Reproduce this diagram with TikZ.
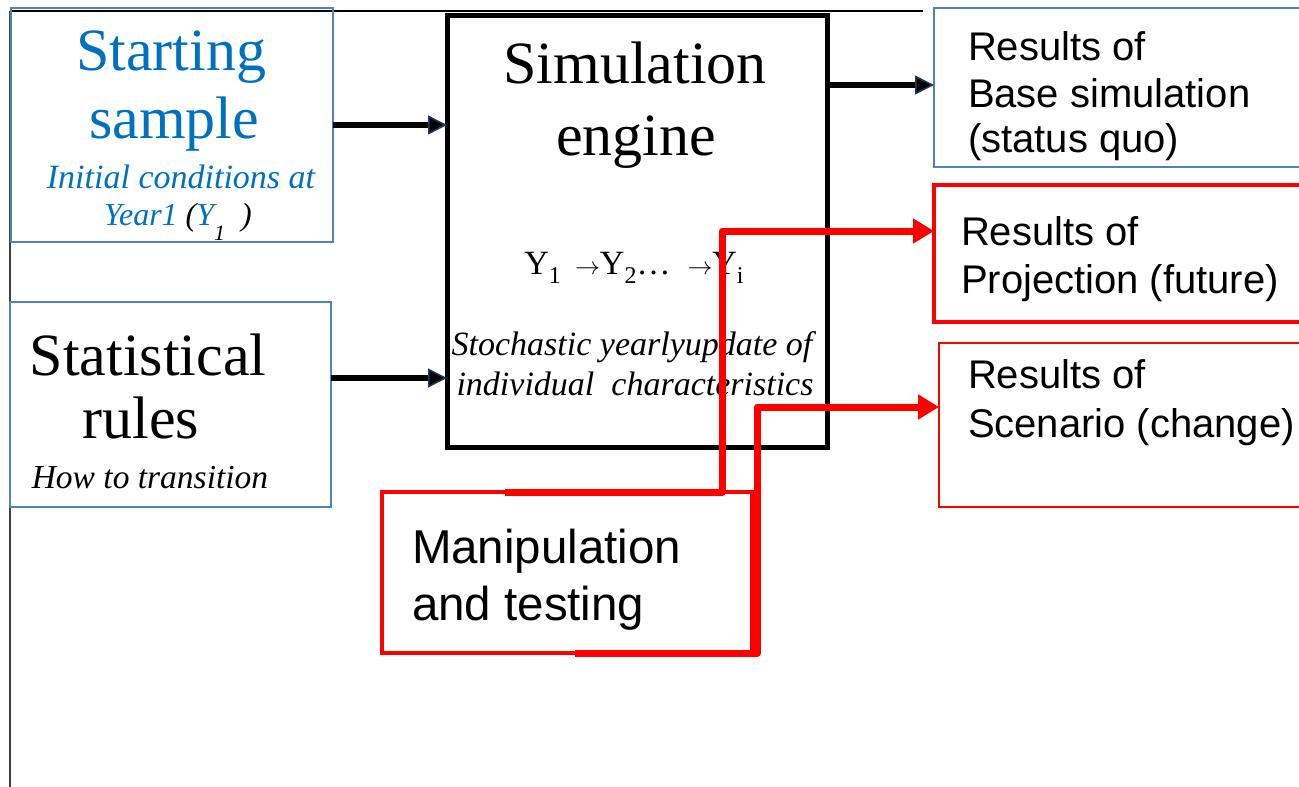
\documentclass[tikz,border=0pt]{standalone}
\usepackage{fontspec}
\setmainfont{Liberation Serif}
\newfontfamily\arialfont{Liberation Sans}
\usetikzlibrary{arrows.meta}
\definecolor{boxblue}{HTML}{4F81BD}
\definecolor{txtblue}{HTML}{0070C0}
\definecolor{navy}{HTML}{1F3864}
\definecolor{pptred}{HTML}{FF0000}
\definecolor{edgegray}{HTML}{404040}
\begin{document}
\begin{tikzpicture}[x=1pt,y=-1pt,
  box/.style={draw, inner sep=0pt, outer sep=0pt, anchor=north west},
  bluebox/.style={box, draw=boxblue, line width=1.6pt},
  enginebox/.style={box, draw=black, line width=5pt},
  redbox/.style={box, draw=pptred, line width=4pt},
  thinredbox/.style={box, draw=pptred, line width=2pt},
  lbl/.style={inner sep=0pt, outer sep=0pt, anchor=base},
  big/.style={lbl, font=\fontsize{60}{60}\selectfont},
  ital/.style={lbl, font=\fontsize{33.5}{33.5}\selectfont\itshape},
  sans/.style={inner sep=0pt, outer sep=0pt, anchor=base west, font=\arialfont\fontsize{40}{40}\selectfont},
  blkarrow/.style={draw=black, line width=5.5pt, -{Triangle[length=19pt, width=19pt, line width=1.5pt, color=navy, fill=black]}},
  redarrow/.style={draw=pptred, line width=7pt, line join=round, -{Triangle[length=21pt, width=24pt]}},
]
\useasboundingbox (0,0) rectangle (1299,787);
\fill[white] (0,0) rectangle (1299,787);

% frame lines
\draw[black, line width=1.2pt] (10,11) -- (923,11);
\draw[edgegray, line width=2pt] (10,11) -- (10,787);

% boxes
\node[bluebox, minimum width=322pt, minimum height=234pt] (ss) at (11,8) {};
\node[bluebox, minimum width=321pt, minimum height=205pt] (sr) at (10,302) {};
\node[enginebox, minimum width=380pt, minimum height=432pt] (eng) at (447,15) {};
\node[bluebox, minimum width=380pt, minimum height=159pt] (rb) at (934,8) {};
\node[redbox, minimum width=380pt, minimum height=137pt] (rp) at (934,185) {};
\node[thinredbox, minimum width=380pt, minimum height=164pt] (rs) at (939,343) {};
\node[redbox, minimum width=370pt, minimum height=161pt] (man) at (382,492) {};

% starting sample text
\node[big, text=txtblue] (ss1) at (171,70) {Starting};
\node[big, text=txtblue] (ss2) at (174,138) {sample};
\node[ital, font=\fontsize{34}{34}\selectfont\itshape, text=txtblue] (ss3) at (181,188) {Initial conditions at};
\node[ital, font=\fontsize{32}{32}\selectfont\itshape] (ss4) at (178,225) {\textcolor{txtblue}{Year1 }(\textcolor{txtblue}{Y}\raisebox{-15pt}{\fontsize{22}{22}\selectfont 1}\ \ )};

% statistical rules text
\node[big] (sr1) at (148,375) {Statistical};
\node[big] (sr2) at (141,438) {rules};
\node[ital] (sr3) at (150,488) {How to transition};

% engine text
\node[big] (en1) at (635,83) {Simulation};
\node[big] (en2) at (636,155) {engine};
\node[lbl, font=\fontsize{34}{34}\selectfont] (en3) at (634,274)
  {Y\raisebox{-9pt}{\fontsize{24}{24}\selectfont 1}\ \,$\rightarrow$Y\raisebox{-9pt}{\fontsize{24}{24}\selectfont 2}\ldots\ \ $\rightarrow$Y\raisebox{-9pt}{\fontsize{24}{24}\selectfont i}};
\node[ital, font=\fontsize{34}{34}\selectfont\itshape] (en4) at (632,355) {Stochastic yearlyupdate of};
\node[ital, font=\fontsize{34}{34}\selectfont\itshape] (en5) at (635,395) {individual\ \ characteristics};

% results text
\node[sans] (rb1) at (968,60) {Results of};
\node[sans] (rb2) at (968,107) {Base simulation};
\node[sans] (rb3) at (968,152) {(status quo)};
\node[sans] (rp1) at (961,245) {Results of};
\node[sans] (rp2) at (961,293) {Projection (future)};
\node[sans] (rs1) at (968,388) {Results of};
\node[sans] (rs2) at (968,437) {Scenario (change)};

% manipulation text
\node[sans, font=\arialfont\fontsize{47.5}{47.5}\selectfont] (m1) at (412,563) {Manipulation};
\node[sans, font=\arialfont\fontsize{47.5}{47.5}\selectfont] (m2) at (412,620) {and testing};

% black connectors
\draw[blkarrow] (ss.east) -- (ss.east -| eng.west);
\coordinate (srout) at ([yshift=26.5pt]sr.east);
\draw[blkarrow] (srout) -- (srout -| eng.west);
\coordinate (rbin) at ([yshift=2.5pt]rb.west);
\draw[blkarrow] (rbin -| eng.east) -- (rbin);

% red connectors
\coordinate (p1) at ([xshift=-62pt]man.north);
\coordinate (pin) at ([yshift=22.5pt]rp.west);
\draw[redarrow] (p1) -| ([xshift=-212pt]pin) -- (pin);
\coordinate (p2) at ([xshift=8pt]man.south);
\coordinate (sin) at ([yshift=18pt]rs.west);
\draw[redarrow] (p2) -| ([xshift=-182pt]sin) -- (sin);
\end{tikzpicture}
\end{document}
